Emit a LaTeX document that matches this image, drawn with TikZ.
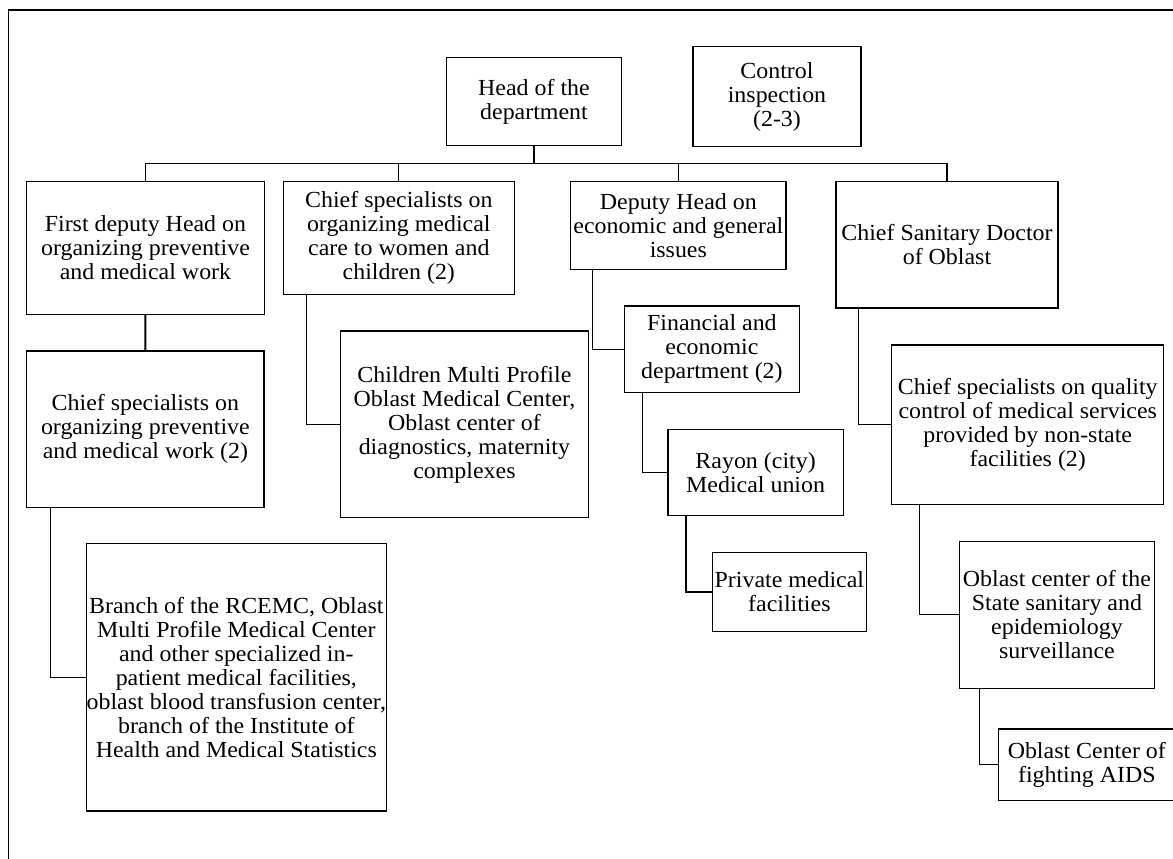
\documentclass[tikz,border=0pt]{standalone}
\usepackage{fontspec}
\setmainfont{Liberation Serif}[FakeStretch=1.04]
\newcommand\orgfont{\fontsize{11.5}{12}\selectfont}
% box: name, left, top, right, bottom (in px units), text
\newcommand\mkbox[6]{%
  \node[orgbox, minimum width={(#4-#2)*0.5pt}, minimum height={(#5-#3)*0.5pt}]
    (#1) at ({(#2+#4)/2},{(#3+#5)/2}) {};
  \node[orgtext] at (#1.center) {#6};}
\begin{document}
\begin{tikzpicture}[x=0.5pt,y=-0.5pt,
  orgbox/.style={draw, line width=0.6pt, inner sep=0pt, outer sep=0pt, fill=white},
  orgtext/.style={align=center, inner sep=0pt, font=\orgfont},
  link/.style={line width=0.6pt},
  trunk/.style={line width=1pt},
  frame/.style={line width=0.7pt}]
\useasboundingbox (0,0) rectangle (1173,858);
\clip (0,0) rectangle (1173,858);
\draw[frame] (8.4,10) rectangle (1200,900);

% top level
\mkbox{head}{446.3}{57.7}{621.7}{145.3}{Head of the\\department}
\mkbox{ctrl}{693}{46.7}{861}{146.7}{Control\\inspection\\(2-3)}

% second level
\mkbox{fd}{26.8}{181.7}{264.1}{314.3}{First deputy Head on\\organizing preventive\\and medical work}
\mkbox{cw}{283.2}{181.7}{514.4}{294.7}{Chief specialists on\\organizing medical\\care to women and\\children (2)}
\mkbox{dh}{570.7}{181.7}{786}{269.3}{Deputy Head on\\economic and general\\issues}
\mkbox{csd}{836}{181.7}{1058}{308}{Chief Sanitary Doctor\\of Oblast}

% lower levels
\mkbox{cp}{26.8}{351}{264}{507.3}{Chief specialists on\\organizing preventive\\and medical work (2)}
\mkbox{br}{86.1}{543.3}{386.5}{811}{Branch of the RCEMC, Oblast\\Multi Profile Medical Center\\and other specialized in-\\patient medical facilities,\\oblast blood transfusion center,\\branch of the Institute of\\Health and Medical Statistics}
\mkbox{chm}{340.6}{331}{588.2}{517.7}{Children Multi Profile\\Oblast Medical Center,\\Oblast center of\\diagnostics, maternity\\complexes}
\mkbox{fin}{624.3}{306}{799.5}{392.7}{Financial and\\economic\\department (2)}
\mkbox{ray}{668}{429.3}{843.2}{515.7}{Rayon (city)\\Medical union}
\mkbox{prv}{712.1}{552.3}{866.6}{631.7}{Private medical\\facilities}
\mkbox{qc}{891.7}{345}{1163.8}{504.7}{Chief specialists on quality\\control of medical services\\provided by non-state\\facilities (2)}
\mkbox{oc}{959.6}{541.3}{1154.3}{688.3}{Oblast center of the\\State sanitary and\\epidemiology\\surveillance}
\mkbox{aids}{998.6}{729}{1175}{800.7}{Oblast Center of\\fighting AIDS}

% connectors
\coordinate (bus) at (534,163.7);
\draw[trunk] (head.south) -- (bus);
\draw[link] (fd.north) |- (bus) -| (csd.north);
\draw[link] (cw.north) -- (cw.north |- bus);
\draw[link] (dh.north) -- (dh.north |- bus);
\draw[trunk] (fd.south) -- (cp.north);
\draw[link] ([xshift=12pt]cp.south west) |- (br.west);
\draw[link] ([xshift=11.5pt]cw.south west) |- (chm.west);
\draw[link] ([xshift=10.9pt]dh.south west) |- (fin.west);
\draw[link] ([xshift=9pt]fin.south west) |- (ray.west);
\draw[link] ([xshift=9pt]ray.south west) |- (prv.west);
\draw[link] ([xshift=11.15pt]csd.south west) |- (qc.west);
\draw[link] ([xshift=13.7pt]qc.south west) |- (oc.west);
\draw[link] ([xshift=9.75pt]oc.south west) |- (aids.west);
\end{tikzpicture}
\end{document}
